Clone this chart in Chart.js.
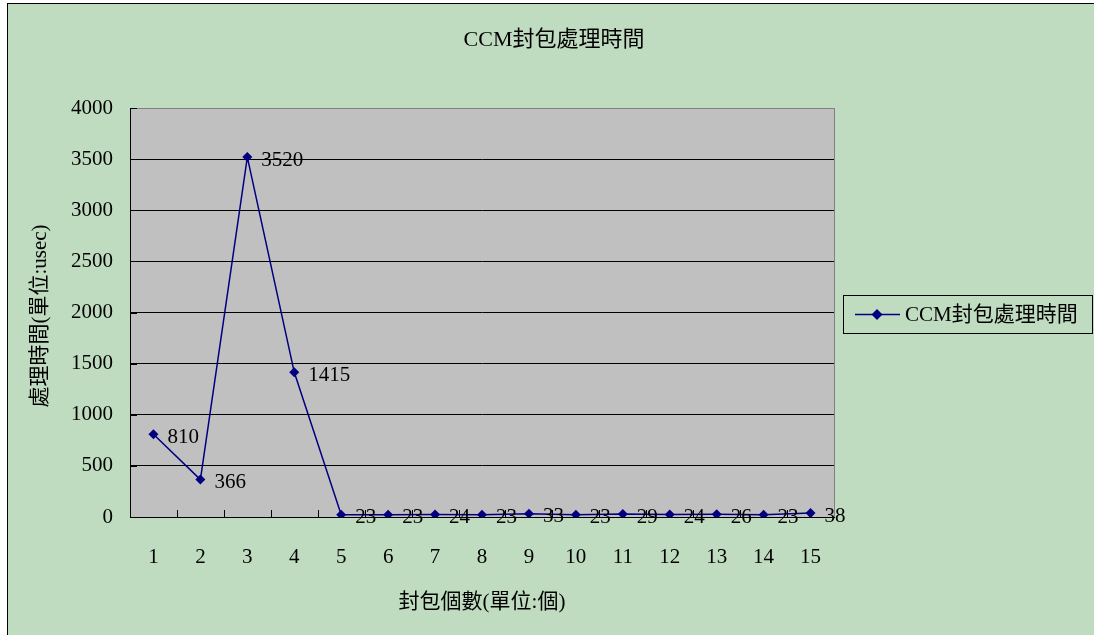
<!DOCTYPE html>
<html>
<head>
<meta charset="utf-8">
<script src="https://cdn.jsdelivr.net/npm/chart.js@4/dist/chart.umd.min.js"></script>
<style>
  html, body { margin: 0; padding: 0; background: #ffffff; }
  canvas { display: block; }
</style>
</head>
<body>
<canvas id="c" width="1094" height="635"></canvas>
<script>
// Packet counts along the x axis and CCM processing time (usec) for each
const categories = ['1','2','3','4','5','6','7','8','9','10','11','12','13','14','15'];
const ccmTimes = [810, 366, 3520, 1415, 23, 23, 24, 23, 33, 23, 29, 24, 26, 23, 38];
const yTicks = [0, 500, 1000, 1500, 2000, 2500, 3000, 3500, 4000];

const chartTitle = 'CCM封包處理時間';
const seriesName = 'CCM封包處理時間';
const xTitle = '封包個數(單位:個)';
const yTitle = '處理時間(單位:usec)';

const FONT = '"Liberation Serif", "Noto Sans CJK TC", serif';
const NAVY = '#000080';
const FS = 21;

// Page frame, plot background, tick marks, titles, value labels and legend
const decor = {
  id: 'decor',
  beforeDraw(chart) {
    const ctx = chart.ctx;
    const a = chart.chartArea;
    ctx.save();
    ctx.fillStyle = '#ffffff';
    ctx.fillRect(0, 0, chart.width, chart.height);
    ctx.fillStyle = '#c0dcc0';
    ctx.fillRect(7, 3, chart.width, chart.height);
    ctx.strokeStyle = '#000000';
    ctx.lineWidth = 1;
    ctx.strokeRect(7.5, 3.5, chart.width + 10, chart.height + 10);
    ctx.fillStyle = '#c0c0c0';
    ctx.fillRect(a.left, a.top, a.right - a.left, a.bottom - a.top);
    ctx.restore();
  },
  beforeDatasetsDraw(chart) {
    const ctx = chart.ctx;
    const a = chart.chartArea;
    const x = chart.scales.x, y = chart.scales.y;
    ctx.save();
    ctx.lineWidth = 1;
    // right edge of the plot
    ctx.strokeStyle = '#808080';
    ctx.beginPath();
    ctx.moveTo(Math.round(a.right) + 0.5, a.top);
    ctx.lineTo(Math.round(a.right) + 0.5, a.bottom);
    ctx.stroke();
    // inward tick marks
    ctx.strokeStyle = '#000000';
    ctx.beginPath();
    for (let i = 1; i < categories.length; i++) {
      const px = Math.round((x.getPixelForValue(i - 1) + x.getPixelForValue(i)) / 2) + 0.5;
      ctx.moveTo(px, a.bottom);
      ctx.lineTo(px, a.bottom - 7);
    }
    yTicks.forEach(v => {
      const py = Math.round(y.getPixelForValue(v)) + 0.5;
      ctx.moveTo(a.left, py);
      ctx.lineTo(a.left + 7, py);
    });
    ctx.stroke();
    ctx.restore();
  },
  afterDraw(chart) {
    const ctx = chart.ctx;
    const meta = chart.getDatasetMeta(0);
    ctx.save();
    ctx.fillStyle = '#000000';
    ctx.font = FS + 'px ' + FONT;
    ctx.textBaseline = 'middle';

    // chart title
    ctx.textAlign = 'center';
    ctx.font = '22px ' + FONT;
    ctx.fillText(chartTitle, 554, 40);
    ctx.font = FS + 'px ' + FONT;
    // x axis title
    ctx.fillText(xTitle, 482, 602);
    // y axis title
    ctx.save();
    ctx.translate(40, 316);
    ctx.rotate(-Math.PI / 2);
    ctx.fillText(yTitle, 0, 0);
    ctx.restore();

    // value labels to the right of each point
    ctx.textAlign = 'left';
    meta.data.forEach((pt, i) => {
      ctx.fillText(String(ccmTimes[i]), pt.x + 14, pt.y + 3);
    });

    // legend
    ctx.strokeStyle = '#000000';
    ctx.lineWidth = 1;
    ctx.strokeRect(843.5, 295.5, 249, 38);
    ctx.strokeStyle = NAVY;
    ctx.lineWidth = 1.5;
    ctx.beginPath();
    ctx.moveTo(855, 314.5);
    ctx.lineTo(900, 314.5);
    ctx.stroke();
    ctx.fillStyle = NAVY;
    ctx.beginPath();
    ctx.moveTo(877, 309);
    ctx.lineTo(882.5, 314.5);
    ctx.lineTo(877, 320);
    ctx.lineTo(871.5, 314.5);
    ctx.closePath();
    ctx.fill();
    ctx.fillStyle = '#000000';
    ctx.fillText(seriesName, 905, 315);
    ctx.restore();
  }
};

new Chart(document.getElementById('c'), {
  type: 'line',
  data: {
    labels: categories,
    datasets: [{
      label: seriesName,
      data: ccmTimes,
      borderColor: NAVY,
      backgroundColor: NAVY,
      borderWidth: 1.5,
      pointStyle: 'rectRot',
      pointRadius: 5,
      pointBorderWidth: 0,
      pointBackgroundColor: NAVY,
      tension: 0,
      fill: false
    }]
  },
  options: {
    responsive: false,
    animation: false,
    devicePixelRatio: 1,
    layout: { padding: { left: 0, top: 108, right: 260, bottom: 58 } },
    plugins: {
      legend: { display: false },
      title: { display: false },
      tooltip: { enabled: false }
    },
    scales: {
      x: {
        type: 'category',
        offset: true,
        grid: { display: false, drawTicks: false },
        border: { display: true, color: '#000000', width: 1 },
        ticks: {
          color: '#000000',
          font: { family: FONT, size: FS },
          padding: 28,
          maxRotation: 0,
          autoSkip: false
        },
        afterFit(scale) { scale.height = 60; }
      },
      y: {
        min: 0,
        max: 4000,
        afterBuildTicks(scale) { scale.ticks = yTicks.map(v => ({ value: v })); },
        grid: {
          drawTicks: false,
          color: ctx => (ctx.tick && ctx.tick.value === 4000) ? '#808080' : '#000000',
          lineWidth: 1
        },
        border: { display: true, color: '#000000', width: 1 },
        ticks: {
          color: '#000000',
          font: { family: FONT, size: FS },
          padding: 17,
          callback: v => String(v)
        },
        afterFit(scale) { scale.width = 130; }
      }
    }
  },
  plugins: [decor]
});
</script>
</body>
</html>
